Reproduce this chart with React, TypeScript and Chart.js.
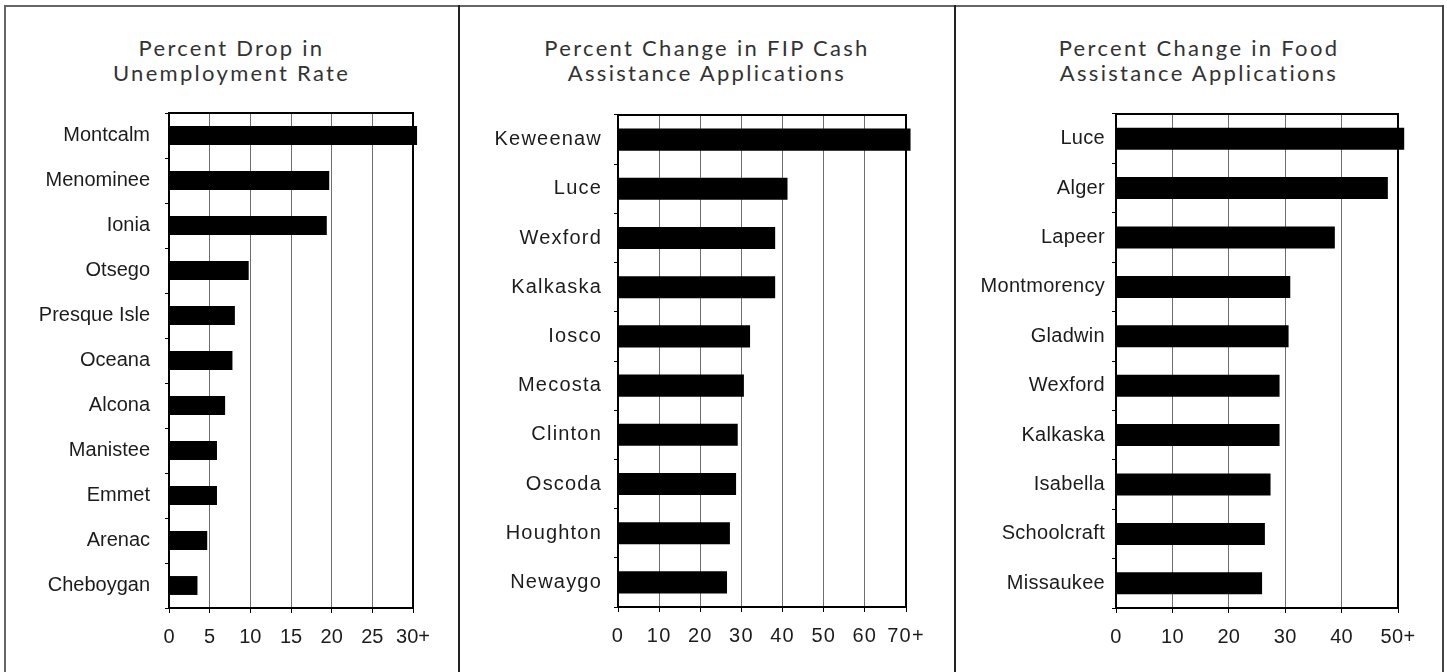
import React, { useEffect, useRef } from 'react';
import { Chart, registerables } from 'chart.js';

Chart.register(...registerables);

// ---- Data ----
const unempTitle = ['Percent Drop in', 'Unemployment Rate'];
const unempCounties = ['Montcalm', 'Menominee', 'Ionia', 'Otsego', 'Presque Isle', 'Oceana', 'Alcona', 'Manistee', 'Emmet', 'Arenac', 'Cheboygan'];
const unempValues = [30.5, 19.7, 19.4, 9.8, 8.1, 7.8, 6.9, 5.9, 5.9, 4.7, 3.5];
const unempTicks = ['0', '5', '10', '15', '20', '25', '30+'];

const fipTitle = ['Percent Change in FIP Cash', 'Assistance Applications'];
const fipCounties = ['Keweenaw', 'Luce', 'Wexford', 'Kalkaska', 'Iosco', 'Mecosta', 'Clinton', 'Oscoda', 'Houghton', 'Newaygo'];
const fipValues = [71.1, 41.2, 38.2, 38.2, 32.1, 30.6, 29.1, 28.7, 27.2, 26.5];
const fipTicks = ['0', '10', '20', '30', '40', '50', '60', '70+'];

const foodTitle = ['Percent Change in Food', 'Assistance Applications'];
const foodCounties = ['Luce', 'Alger', 'Lapeer', 'Montmorency', 'Gladwin', 'Wexford', 'Kalkaska', 'Isabella', 'Schoolcraft', 'Missaukee'];
const foodValues = [51.1, 48.2, 38.8, 30.9, 30.6, 29.0, 29.0, 27.4, 26.4, 25.9];
const foodTicks = ['0', '10', '20', '30', '40', '50+'];

const H = 672;
const tickFont = { family: "'Liberation Sans', Arial, sans-serif", size: 20 };
const tickColor = '#1c1c1c';

type PanelProps = {
  boxLeft: number;
  boxWidth: number;
  canvasLeft: number;
  canvasWidth: number;
  plotLeft: number;
  plotRight: number;
  plotTop: number;
  plotBottom: number;
  title: string[];
  labels: string[];
  values: number[];
  ticks: string[];
  max: number;
  step: number;
  labelPad: number;
  spacing: number;
  barPct: number;
};

function BarPanel(p: PanelProps) {
  const ref = useRef<HTMLCanvasElement>(null);
  useEffect(() => {
    const canvas = ref.current!;
    const yWidth = p.plotLeft - p.canvasLeft;
    const rightPad = p.canvasLeft + p.canvasWidth - p.plotRight;
    const framePlugin = {
      id: 'plotFrame',
      beforeDraw(chart: any) {
        chart.ctx.letterSpacing = p.spacing + 'px';
      },
      beforeDatasetsDraw(chart: any) {
        const { ctx, chartArea: a } = chart;
        ctx.save();
        ctx.strokeStyle = '#000';
        ctx.lineWidth = 2;
        ctx.beginPath();
        ctx.moveTo(a.left, a.top);
        ctx.lineTo(a.right, a.top);
        ctx.lineTo(a.right, a.bottom);
        ctx.stroke();
        ctx.restore();
      },
    };
    const chart = new Chart(canvas, {
      type: 'bar',
      data: {
        labels: p.labels,
        datasets: [
          {
            data: p.values,
            backgroundColor: '#000',
            borderWidth: 0,
            barPercentage: p.barPct,
            categoryPercentage: 1,
            clip: false as any,
          },
        ],
      },
      options: {
        indexAxis: 'y',
        responsive: false,
        animation: false,
        layout: { padding: { left: 0, right: rightPad, top: p.plotTop, bottom: 0 } },
        plugins: {
          legend: { display: false },
          tooltip: { enabled: false },
          title: { display: false },
        },
        scales: {
          x: {
            min: 0,
            max: p.max,
            ticks: {
              stepSize: p.step,
              autoSkip: false,
              maxRotation: 0,
              font: tickFont,
              color: tickColor,
              padding: 12,
              callback: (_v: any, i: number) => p.ticks[i],
            },
            grid: { color: '#6e6e6e', lineWidth: 1, tickLength: 5, tickColor: '#000', drawTicks: true },
            border: { display: true, color: '#000', width: 2 },
            afterFit: (s: any) => {
              s.height = H - p.plotBottom;
            },
          },
          y: {
            ticks: { autoSkip: false, font: tickFont, color: tickColor, padding: p.labelPad },
            grid: { drawOnChartArea: false, tickLength: 4, tickColor: '#000', offset: true },
            border: { display: true, color: '#000', width: 2 },
            afterFit: (s: any) => {
              s.width = yWidth;
            },
          },
        },
      } as any,
      plugins: [framePlugin],
    });
    return () => chart.destroy();
  }, []);

  return (
    <>
      <div
        style={{
          position: 'absolute',
          left: p.boxLeft,
          width: p.boxWidth,
          top: 35,
          textAlign: 'center',
          fontFamily: "Lato, 'Open Sans', sans-serif",
          fontSize: 22,
          lineHeight: '25px',
          letterSpacing: '2.3px',
          color: '#333',
        }}
      >
        {p.title.map((t, i) => (
          <div key={i}>{t}</div>
        ))}
      </div>
      <canvas
        ref={ref}
        width={p.canvasWidth}
        height={H}
        style={{ position: 'absolute', left: p.canvasLeft, top: 0, width: p.canvasWidth, height: H }}
      />
    </>
  );
}

const line = (l: number, t: number, w: number, h: number, c: string) => (
  <div style={{ position: 'absolute', left: l, top: t, width: w, height: h, background: c }} />
);

export default function App() {
  return (
    <div style={{ position: 'absolute', left: 0, top: 0, width: 1447, height: H, background: '#fff', overflow: 'hidden' }}>
      <BarPanel
        boxLeft={4}
        boxWidth={455}
        canvasLeft={6}
        canvasWidth={452}
        plotLeft={169}
        plotRight={413}
        plotTop={113}
        plotBottom={608}
        title={unempTitle}
        labels={unempCounties}
        values={unempValues}
        ticks={unempTicks}
        max={30}
        step={5}
        labelPad={15}
        spacing={0}
        barPct={0.42}
      />
      <BarPanel
        boxLeft={459}
        boxWidth={496}
        canvasLeft={460}
        canvasWidth={494}
        plotLeft={618}
        plotRight={906}
        plotTop={115}
        plotBottom={607}
        title={fipTitle}
        labels={fipCounties}
        values={fipValues}
        ticks={fipTicks}
        max={70}
        step={10}
        labelPad={12}
        spacing={1.2}
        barPct={0.45}
      />
      <BarPanel
        boxLeft={955}
        boxWidth={488}
        canvasLeft={956}
        canvasWidth={486}
        plotLeft={1116}
        plotRight={1398}
        plotTop={114}
        plotBottom={608}
        title={foodTitle}
        labels={foodCounties}
        values={foodValues}
        ticks={foodTicks}
        max={50}
        step={10}
        labelPad={7}
        spacing={0.3}
        barPct={0.445}
      />
      {line(4, 5, 1440, 2, '#666')}
      {line(4, 5, 2, H, '#666')}
      {line(458, 5, 2, H, '#222')}
      {line(954, 5, 2, H, '#222')}
      {line(1442, 5, 2, H, '#444')}
    </div>
  );
}
